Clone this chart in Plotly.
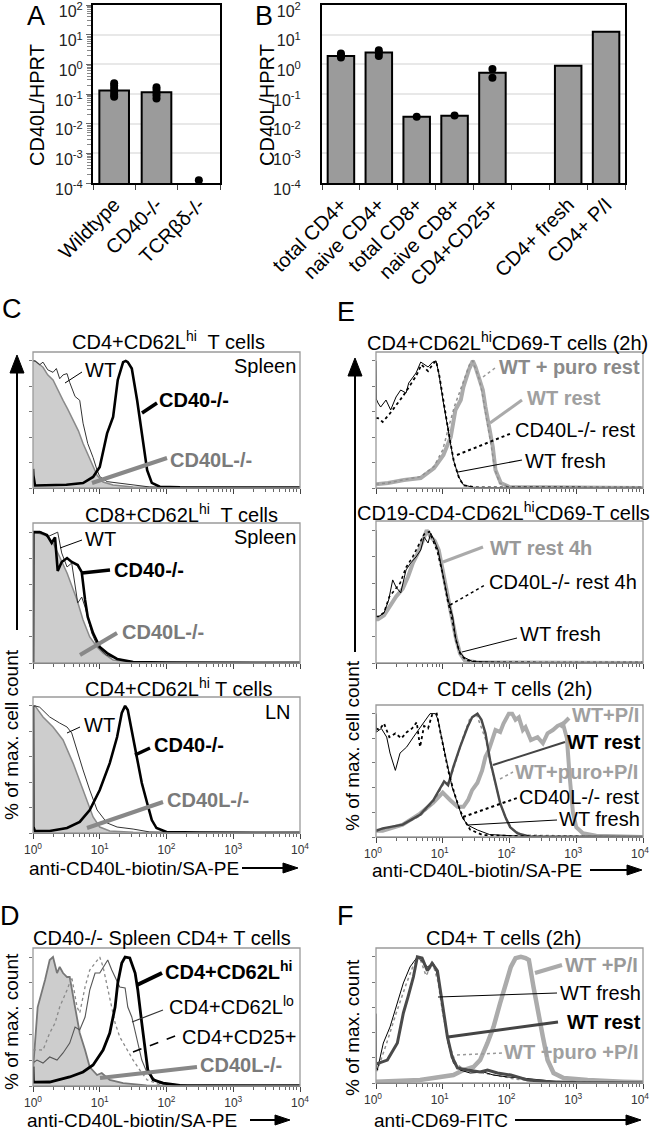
import numpy as np
import plotly.graph_objects as go

W, H = 650, 1132
FONT = "Liberation Sans, Arial, sans-serif"

# ------------------------------------------------------------------ data
# Panel A (CD40L/HPRT)
A_cats = ["Wildtype", "CD40-/-", "TCRβδ-/-"]
A_bars = [0.13, 0.115, None]
A_wt_dots = [0.23, 0.19, 0.15, 0.12, 0.095, 0.08]
A_cd40_dots = [0.17, 0.14, 0.11, 0.09, 0.07]
A_tcr_dots = [1.25e-4]

# Panel B
B_cats = ["total CD4+", "naive CD4+", "total CD8+", "naive CD8+", "CD4+CD25+", " ", "CD4+ fresh", "CD4+ P/I"]
B_bars = [1.9, 2.5, 0.017, 0.0186, 0.52, None, 0.9, 12.6]
B_tcd4_dots = [2.3, 1.7, 2.0]
B_ncd4_dots = [3.0, 1.9, 2.4]
B_tcd8_dots = [0.017]
B_ncd8_dots = [0.019]
B_cd25_dots = [0.7, 0.35]

# Histograms: x = log10 fluorescence, y = % of max
C1_ko_x = [0, 0.03, 0.15, 0.22, 0.3, 0.38, 0.45, 0.52, 0.6, 0.68, 0.75, 0.82, 0.88, 0.96, 1.05, 1.2, 1.5, 2.0, 4.0]
C1_ko_y = [100, 100, 95, 89, 85, 76, 69, 62, 53, 45, 35, 27, 20, 10, 4.7, 2.4, 0.8, 0.3, 0]
C1_wt_x = [0, 0.03, 0.1, 0.15, 0.22, 0.3, 0.35, 0.4, 0.45, 0.51, 0.55, 0.63, 0.7, 0.75, 0.82, 0.9, 0.96, 1.0, 1.11, 1.26, 1.5, 1.75, 2.2, 4.0]
C1_wt_y = [100, 100, 97, 99, 93, 91, 94, 86, 89, 90, 83, 72, 69, 51, 35, 24, 14, 9, 5, 4, 2.4, 0.8, 0.3, 0]
C1_cd40_x = [0, 0.005, 0.03, 0.1, 0.5, 0.75, 0.9, 1.0, 1.11, 1.2, 1.27, 1.35, 1.39, 1.42, 1.48, 1.56, 1.63, 1.71, 1.78, 1.9, 2.2, 4.0]
C1_cd40_y = [15, 10, 2, 2, 2.5, 3.9, 8.7, 16.5, 43, 56, 85, 99, 100, 99, 94, 69, 43, 14, 4, 1, 0.5, 0.3]

C2_ko_x = [0, 0.1, 0.21, 0.3, 0.4, 0.51, 0.66, 0.75, 0.85, 0.96, 1.05, 1.2, 1.5, 4.0]
C2_ko_y = [100, 99, 97, 91.7, 81, 68.8, 48.2, 32.9, 19.9, 12.2, 7.6, 2.3, 0.5, 0]
C2_cd40_x = [0, 0.005, 0.1, 0.21, 0.28, 0.33, 0.37, 0.43, 0.51, 0.58, 0.67, 0.73, 0.78, 0.82, 0.9, 1.0, 1.11, 1.26, 1.5, 2.0, 4.0]
C2_cd40_y = [0, 100, 100, 97.8, 91.7, 96, 70.3, 77.2, 80.2, 77.2, 74.9, 69.5, 48.2, 35.2, 22.9, 12.2, 7.6, 3.1, 0.8, 0.3, 0.2]
C2_wt_x = [0, 0.13, 0.21, 0.33, 0.37, 0.43, 0.51, 0.58, 0.63, 0.67, 0.73, 0.78, 0.88, 0.97, 1.1, 1.3, 1.6, 4.0]
C2_wt_y = [100, 100, 96.3, 99.4, 100, 84.1, 73.4, 76.4, 61.1, 45.9, 50.4, 42.8, 22.9, 12.2, 6, 2.3, 0.5, 0]

C3_ko_x = [0, 0.03, 0.15, 0.3, 0.45, 0.6, 0.75, 0.9, 1.0, 1.15, 1.5, 4.0]
C3_ko_y = [100, 100, 91.3, 83.4, 73.2, 55, 33.8, 12.6, 4.7, 1.6, 0.5, 0]
C3_wt_x = [0, 0.03, 0.1, 0.25, 0.4, 0.51, 0.58, 0.67, 0.75, 0.85, 0.96, 1.11, 1.26, 1.5, 1.75, 2.2, 4.0]
C3_wt_y = [100, 100, 99, 91.3, 86.5, 83.4, 78.7, 63, 49.6, 33.8, 18.1, 7.9, 4.7, 3.1, 0.8, 0.3, 0]
C3_cd40_x = [0, 0.005, 0.03, 0.25, 0.51, 0.7, 0.85, 1.0, 1.15, 1.26, 1.33, 1.38, 1.42, 1.5, 1.56, 1.63, 1.71, 1.78, 1.85, 2.0, 2.5, 4.0]
C3_cd40_y = [100, 5, 1.5, 1.6, 3.9, 8.7, 18.1, 33.8, 55, 75.5, 94.4, 100, 96.8, 75.5, 59.8, 39.3, 23.6, 10.2, 3.9, 0.8, 0.3, 0.2]

D_ko_x = [0, 0.07, 0.18, 0.25, 0.3, 0.36, 0.4, 0.45, 0.51, 0.55, 0.63, 0.7, 0.78, 0.85, 0.96, 1.03, 1.15, 1.35, 1.7, 4.0]
D_ko_y = [12.4, 61.2, 82.2, 97.7, 100, 87.6, 92.3, 87.6, 84.5, 84.5, 61.2, 41.1, 27.9, 14.7, 8.5, 10.1, 4.7, 2.3, 0.5, 0]
D_hi_x = [0, 0.005, 0.03, 0.25, 0.55, 0.75, 0.9, 1.05, 1.15, 1.23, 1.27, 1.33, 1.38, 1.45, 1.53, 1.57, 1.63, 1.68, 1.72, 1.8, 1.95, 2.2, 4.0]
D_hi_y = [15, 3, 3, 3.1, 7, 10.9, 16.3, 27.9, 41.1, 61.2, 79.8, 95.3, 100, 99.3, 87.6, 74.4, 48.8, 27.9, 12.4, 4.7, 2.3, 0.5, 0.2]
D_lo_x = [0, 0.06, 0.15, 0.25, 0.36, 0.45, 0.55, 0.63, 0.7, 0.78, 0.85, 0.93, 1.0, 1.05, 1.12, 1.18, 1.23, 1.3, 1.38, 1.42, 1.48, 1.56, 1.63, 1.71, 1.9, 2.3, 4.0]
D_lo_y = [18, 20.1, 17.8, 22.5, 20.1, 25.6, 33.3, 45.7, 43.4, 53.5, 74.4, 87.6, 87.6, 92.3, 97.7, 89.9, 84.5, 76.8, 76, 61.2, 53.5, 35.7, 20.1, 10.1, 2, 0.5, 0]
D_25_x = [0, 0.15, 0.25, 0.33, 0.4, 0.51, 0.58, 0.66, 0.7, 0.78, 0.85, 0.96, 1.0, 1.05, 1.12, 1.23, 1.3, 1.41, 1.5, 1.6, 1.71, 1.9, 2.3, 4.0]
D_25_y = [28, 27.9, 41.1, 48.8, 61.2, 74.4, 84.5, 61.2, 56.6, 76.8, 89.9, 97.7, 100, 92.3, 74.4, 48.8, 38, 27.9, 20.1, 12.4, 4.7, 1, 0.3, 0]

E1_fresh_x = [0, 0.005, 0.03, 0.07, 0.15, 0.22, 0.3, 0.37, 0.45, 0.49, 0.6, 0.67, 0.78, 0.85, 0.9, 0.94, 1.01, 1.09, 1.16, 1.24, 1.31, 1.46, 2.0, 4.0]
E1_fresh_y = [100, 70, 66.9, 63.7, 69.2, 61.4, 71.6, 77.1, 74.7, 82.6, 90.5, 99.1, 95.2, 99.1, 100, 90.5, 66.9, 43.3, 22, 8.7, 2.4, 0.5, 0.2, 0]
E1_ko_x = [0, 0.03, 0.1, 0.2, 0.3, 0.4, 0.5, 0.6, 0.68, 0.78, 0.86, 0.9, 0.95, 1.02, 1.1, 1.17, 1.25, 1.32, 1.5, 4.0]
E1_ko_y = [55, 55, 52, 58, 65, 72, 80, 88, 97, 92, 98, 100, 88, 65, 40, 20, 7, 2, 0.5, 0.3]
E1_rest_x = [0, 0.18, 0.42, 0.67, 0.87, 1.01, 1.12, 1.19, 1.27, 1.31, 1.39, 1.45, 1.49, 1.54, 1.6, 1.64, 1.69, 1.75, 1.79, 1.87, 2.0, 4.0]
E1_rest_y = [3, 3.9, 6.3, 7.9, 15.7, 26, 40.1, 61.4, 69.2, 79.5, 92.8, 100, 95.2, 87.3, 77.1, 63.7, 51.1, 32.3, 14.2, 3.9, 0.8, 0]
E1_puro_x = [0, 0.18, 0.42, 0.67, 0.87, 1.0, 1.1, 1.18, 1.25, 1.32, 1.4, 1.45, 1.5, 1.55, 1.6, 1.66, 1.72, 1.78, 1.85, 2.0, 4.0]
E1_puro_y = [3, 4, 6.5, 9, 17, 30, 50, 65, 75, 85, 97, 100, 93, 85, 72, 55, 35, 15, 4, 0.8, 0.3]

E2_fresh_x = [0, 0.005, 0.03, 0.12, 0.19, 0.25, 0.3, 0.37, 0.45, 0.52, 0.6, 0.67, 0.72, 0.78, 0.82, 0.87, 0.93, 1.0, 1.07, 1.15, 1.19, 1.24, 1.31, 1.45, 2.0, 4.0]
E2_fresh_y = [100, 36, 34.7, 37.7, 47.5, 62.6, 57.3, 52.8, 70.1, 75.4, 79.9, 85.1, 94.9, 90.4, 97.9, 92.7, 85.1, 67.8, 49.7, 34.7, 19.6, 9.8, 4.5, 1, 0.3, 0]
E2_rest_x = [0, 0.03, 0.12, 0.2, 0.3, 0.4, 0.48, 0.55, 0.62, 0.7, 0.76, 0.82, 0.88, 0.94, 1.0, 1.07, 1.14, 1.2, 1.26, 1.33, 1.5, 4.0]
E2_rest_y = [33, 33, 36, 42, 50, 56, 65, 75, 82, 92, 100, 95, 92, 85, 70, 52, 35, 18, 7, 2, 0.5, 0]
E2_ko_x = [0, 0.03, 0.12, 0.2, 0.28, 0.36, 0.45, 0.55, 0.65, 0.72, 0.8, 0.86, 0.92, 1.0, 1.07, 1.14, 1.2, 1.26, 1.35, 1.6, 4.0]
E2_ko_y = [35, 35, 38, 50, 55, 60, 72, 80, 90, 97, 99, 92, 84, 67, 48, 33, 17, 7, 2, 0.5, 0.3]

E3_fresh_x = [0, 0.005, 0.08, 0.16, 0.21, 0.29, 0.36, 0.46, 0.56, 0.66, 0.74, 0.81, 0.89, 0.93, 0.99, 1.07, 1.14, 1.22, 1.29, 1.37, 1.52, 1.7, 2.2, 4.0]
E3_fresh_y = [100, 85, 88, 81, 68, 54, 68, 73, 81, 89, 95, 100, 100, 95, 78.6, 56.7, 40.5, 27.5, 16.2, 9.7, 5.7, 2, 0.5, 0]
E3_ko_x = [0, 0.05, 0.12, 0.2, 0.29, 0.38, 0.46, 0.54, 0.61, 0.66, 0.72, 0.78, 0.84, 0.91, 0.96, 1.02, 1.09, 1.16, 1.23, 1.31, 1.41, 1.6, 2.5, 4.0]
E3_ko_y = [88, 87, 92, 81, 84, 80, 85, 88, 93, 73, 90, 88, 99, 100, 86, 70, 52, 38, 26, 15, 6, 1.5, 0.3, 0]
E3_rest_x = [0, 0.1, 0.4, 0.66, 0.86, 0.96, 1.02, 1.08, 1.16, 1.26, 1.37, 1.44, 1.52, 1.58, 1.64, 1.71, 1.79, 1.86, 1.94, 2.01, 2.12, 2.3, 4.0]
E3_rest_y = [5, 7, 10, 18, 30, 40, 45, 42, 57, 73, 89, 97, 100, 95, 84, 62, 44, 27.5, 16, 8, 3, 0.5, 0]
E3_puro_x = [0, 0.4, 0.66, 0.86, 1.0, 1.1, 1.2, 1.3, 1.4, 1.5, 1.57, 1.65, 1.72, 1.8, 1.88, 1.96, 2.05, 2.2, 4.0]
E3_puro_y = [5, 10, 17, 28, 42, 45, 62, 80, 95, 100, 90, 78, 58, 40, 24, 13, 6, 1.5, 0]
E3_pi_x = [0, 0.1, 0.4, 0.66, 0.86, 1.0, 1.11, 1.22, 1.31, 1.38, 1.44, 1.52, 1.59, 1.64, 1.69, 1.74, 1.79, 1.86, 1.91, 1.99, 2.04, 2.09, 2.14, 2.2, 2.24, 2.32, 2.42, 2.5, 2.57, 2.65, 2.72, 2.8, 2.86, 2.9, 2.95, 3.0, 3.1, 3.3, 4.0]
E3_pi_y = [5, 5, 10, 19, 28, 36, 30, 24.5, 24.5, 30, 38, 44, 54, 65, 70.5, 78.6, 86.7, 85, 92, 100, 100, 95, 97, 86.7, 89, 78.6, 81, 76, 84, 86.7, 90, 92, 80, 50, 20, 8, 3, 1, 0]

F_fresh_x = [0, 0.005, 0.02, 0.11, 0.21, 0.32, 0.41, 0.51, 0.62, 0.66, 0.77, 0.86, 0.93, 1.0, 1.08, 1.16, 1.26, 1.41, 1.61, 1.76, 1.97, 2.17, 2.42, 2.7, 3.0, 4.0]
F_fresh_y = [55, 12, 10.3, 31.7, 44.4, 63.4, 79.3, 92, 100, 98, 92, 95, 84, 57.9, 31.7, 15.9, 10.3, 7.9, 8.7, 6.3, 4.8, 4, 2.4, 1.2, 0.5, 0]
F_rest_x = [0, 0.17, 0.32, 0.41, 0.48, 0.56, 0.62, 0.69, 0.77, 0.84, 0.92, 0.99, 1.07, 1.14, 1.22, 1.37, 1.56, 1.67, 1.82, 2.02, 2.27, 2.6, 3.0, 4.0]
F_rest_y = [15, 18.2, 31.7, 55.5, 68.2, 84, 100, 99, 89, 95, 89, 63.4, 36.5, 20.6, 11.9, 10.3, 8.7, 10.3, 7.9, 6.3, 2.4, 1, 0.3, 0]
F_puro_x = [0, 0.02, 0.15, 0.3, 0.45, 0.55, 0.65, 0.75, 0.85, 0.93, 1.0, 1.1, 1.2, 1.35, 1.6, 1.8, 2.1, 2.5, 4.0]
F_puro_y = [10, 10, 30, 55, 78, 92, 100, 85, 95, 80, 55, 30, 15, 10, 8, 6, 3, 1, 0]
F_pi_x = [0, 0.66, 1.16, 1.31, 1.46, 1.56, 1.67, 1.76, 1.86, 1.94, 2.02, 2.09, 2.17, 2.24, 2.29, 2.36, 2.42, 2.5, 2.57, 2.66, 2.81, 3.17, 3.7, 4.0]
F_pi_y = [1, 2.4, 6.3, 10.3, 12.7, 18.2, 31.7, 44.4, 63.4, 79.3, 92, 99, 100, 99, 97.5, 76, 57.9, 36.5, 18.2, 7.9, 4, 2.4, 1, 0.5]

# ------------------------------------------------------------------ layout helpers
def fx(px):
    return px / W

def fy(py):
    return 1 - py / H

PANELS = [  # name, x0, x1, y0, y1 (pixels)
    ("A", 93, 220, 5, 183),
    ("B", 322, 625, 5, 183),
    ("C1", 33, 300, 352, 488),
    ("C2", 33, 300, 523, 663),
    ("C3", 33, 300, 697, 833),
    ("D", 33, 300, 948, 1086),
    ("E1", 376, 643, 352, 488),
    ("E2", 376, 643, 521, 663),
    ("E3", 376, 643, 705, 837),
    ("F", 376, 643, 948, 1083),
]
IDX = {p[0]: i + 1 for i, p in enumerate(PANELS)}

fig = go.Figure()
layout = dict(width=W, height=H, margin=dict(l=0, r=0, t=0, b=0),
              paper_bgcolor="white", plot_bgcolor="white", showlegend=False,
              font=dict(family=FONT, color="black"))

dec_vals = [1, 10, 100, 1000, 10000]
dec_text = ["10<sup>0</sup>", "10<sup>1</sup>", "10<sup>2</sup>", "10<sup>3</sup>", "10<sup>4</sup>"]
minor_vals = [m * 10 ** d for d in range(4) for m in range(2, 10)]
bar_y_vals = [1e-4, 1e-3, 1e-2, 1e-1, 1, 10, 100]
bar_y_text = ["10<sup>-4</sup>", "10<sup>-3</sup>", "10<sup>-2</sup>", "10<sup>-1</sup>",
              "10<sup>0</sup>", "10<sup>1</sup>", "10<sup>2</sup>"]
bar_minor = [m * 10.0 ** d for d in range(-4, 2) for m in range(2, 10)]

shapes = []
annotations = []

for name, x0, x1, y0, y1 in PANELS:
    i = IDX[name]
    xa = "xaxis" if i == 1 else f"xaxis{i}"
    ya = "yaxis" if i == 1 else f"yaxis{i}"
    xd = [fx(x0), fx(x1)]
    yd = [fy(y1), fy(y0)]
    if name in ("A", "B"):
        cats = A_cats if name == "A" else B_cats
        layout[xa] = dict(domain=xd, anchor=f"y{i}", type="category", categoryorder="array",
                          categoryarray=cats, range=[-0.5, len(cats) - 0.5],
                          tickangle=-45, tickson="boundaries", ticks="outside", ticklen=5,
                          tickcolor="#444", showline=True, mirror=True, linecolor="black",
                          linewidth=2, showgrid=False, tickfont=dict(size=20),
                          automargin=False, fixedrange=True)
        ydict = dict(domain=yd, anchor=f"x{i}", type="log", range=[-4, 2],
                     tickmode="array", tickvals=bar_y_vals, ticktext=bar_y_text,
                     ticks="outside", ticklen=5, tickcolor="#666",
                     showline=True, mirror=True, linecolor="black", linewidth=2,
                     showgrid=True, gridcolor="#e8e8e8", gridwidth=1.5,
                     ticklabeloverflow="allow", ticklabelshift=6,
                     tickfont=dict(size=16, color="#222"), automargin=False)
        if name == "A":
            ydict["minor"] = dict(tickmode="array", tickvals=bar_minor, ticks="outside",
                                  ticklen=4, tickcolor="#888", showgrid=False)
        else:
            ydict["ticks"] = ""
            ydict["ticklabelstandoff"] = 16
        layout[ya] = ydict
    else:
        show_lbl = name in ("C3", "D", "E3", "F")
        xdict = dict(domain=xd, anchor=f"y{i}", type="log", range=[0, 4],
                     tickmode="array", tickvals=dec_vals, ticktext=dec_text,
                     ticks="outside", ticklen=5, tickcolor="#444",
                     minor=dict(tickmode="array", tickvals=minor_vals, ticks="outside",
                                ticklen=3, tickcolor="#666", showgrid=False),
                     showline=True, linecolor="#444", linewidth=1.3, showgrid=False,
                     zeroline=False, showticklabels=show_lbl, ticklabeloverflow="allow",
                     tickfont=dict(size=12, color="#333"), automargin=False)
        if name in ("E3", "F"):
            xdict["ticklabelshift"] = -3
        layout[xa] = xdict
        layout[ya] = dict(domain=yd, anchor=f"x{i}", range=[0, 107],
                          tickmode="array", tickvals=[0, 20, 40, 60, 80, 100],
                          ticks="outside", ticklen=3, tickcolor="#777",
                          showticklabels=False, showline=False, showgrid=False,
                          zeroline=False, automargin=False)
        shapes.append(dict(type="rect", xref=f"x{i} domain", yref=f"y{i} domain",
                           x0=0, x1=1, y0=0, y1=1, line=dict(color="#9a9a9a", width=1.3),
                           layer="above"))

# ------------------------------------------------------------------ bar traces
def bar(name, cats, vals):
    i = IDX[name]
    fig.add_trace(go.Bar(x=cats, y=vals, xaxis=f"x{i}", yaxis=f"y{i}", width=0.7,
                         marker=dict(color="#9b9b9b", line=dict(color="black", width=2))))

def dots(name, cat, vals):
    i = IDX[name]
    fig.add_trace(go.Scatter(x=[cat] * len(vals), y=vals, xaxis=f"x{i}", yaxis=f"y{i}",
                             mode="markers", cliponaxis=False,
                             marker=dict(color="black", size=8)))

bar("A", A_cats, A_bars)
dots("A", A_cats[0], A_wt_dots)
dots("A", A_cats[1], A_cd40_dots)
dots("A", A_cats[2], A_tcr_dots)
bar("B", B_cats, B_bars)
dots("B", B_cats[0], B_tcd4_dots)
dots("B", B_cats[1], B_ncd4_dots)
dots("B", B_cats[2], B_tcd8_dots)
dots("B", B_cats[3], B_ncd8_dots)
dots("B", B_cats[4], B_cd25_dots)

# ------------------------------------------------------------------ histogram traces
FILL = "#cdcdcd"
def curve(name, lx, y, color, width, dash="solid", fill=False):
    i = IDX[name]
    kw = dict(x=10 ** np.array(lx, dtype=float), y=y, xaxis=f"x{i}", yaxis=f"y{i}",
              mode="lines", line=dict(color=color, width=width, dash=dash, shape="linear"))
    if fill:
        kw["fill"] = "tozeroy"
        kw["fillcolor"] = FILL
    fig.add_trace(go.Scatter(**kw))

LG = "#ababab"   # light thick gray
DG = "#4a4a4a"   # dark gray

for nm, kx, ky, wx, wy, cx, cy in [
        ("C1", C1_ko_x, C1_ko_y, C1_wt_x, C1_wt_y, C1_cd40_x, C1_cd40_y),
        ("C2", C2_ko_x, C2_ko_y, C2_wt_x, C2_wt_y, C2_cd40_x, C2_cd40_y),
        ("C3", C3_ko_x, C3_ko_y, C3_wt_x, C3_wt_y, C3_cd40_x, C3_cd40_y)]:
    curve(nm, kx, ky, "#8a8a8a", 1.5, fill=True)
    curve(nm, wx, wy, "#333333", 1.0)
    curve(nm, cx, cy, "black", 2.6)

curve("D", D_ko_x, D_ko_y, "#777777", 1.8, fill=True)
curve("D", D_25_x, D_25_y, "#8a8a8a", 1.3, dash="dot")
curve("D", D_lo_x, D_lo_y, "#555555", 1.1)
curve("D", D_hi_x, D_hi_y, "black", 2.8)

curve("E1", E1_rest_x, E1_rest_y, LG, 4)
curve("E1", E1_puro_x, E1_puro_y, "#8f8f8f", 1.5, dash="dot")
curve("E1", E1_ko_x, E1_ko_y, "black", 1.8, dash="dot")
curve("E1", E1_fresh_x, E1_fresh_y, "black", 1.0)

curve("E2", E2_rest_x, E2_rest_y, LG, 4)
curve("E2", E2_ko_x, E2_ko_y, "black", 1.6, dash="dot")
curve("E2", E2_fresh_x, E2_fresh_y, "black", 1.0)

curve("E3", E3_pi_x, E3_pi_y, LG, 4)
curve("E3", E3_puro_x, E3_puro_y, "#8f8f8f", 1.5, dash="dot")
curve("E3", E3_rest_x, E3_rest_y, DG, 2.4)
curve("E3", E3_ko_x, E3_ko_y, "black", 1.8, dash="dot")
curve("E3", E3_fresh_x, E3_fresh_y, "black", 1.0)

curve("F", F_pi_x, F_pi_y, LG, 4.5)
curve("F", F_puro_x, F_puro_y, "#8f8f8f", 1.5, dash="dot")
curve("F", F_fresh_x, F_fresh_y, "black", 1.0)
curve("F", F_rest_x, F_rest_y, DG, 3)

# ------------------------------------------------------------------ text
def text(t, x, y, size=20, color="black", anchor="left", angle=0):
    annotations.append(dict(text=t, x=fx(x), y=fy(y), xref="paper", yref="paper",
                            xanchor=anchor, yanchor="middle", showarrow=False,
                            textangle=angle, font=dict(size=size, color=color, family=FONT)))

def seg(x0, y0, x1, y1, color="black", width=1, dash="solid"):
    shapes.append(dict(type="line", xref="paper", yref="paper", x0=fx(x0), y0=fy(y0),
                       x1=fx(x1), y1=fy(y1), line=dict(color=color, width=width, dash=dash),
                       layer="above"))

def tri(pts):
    d = "M " + " L ".join(f"{fx(a):.5f},{fy(b):.5f}" for a, b in pts) + " Z"
    shapes.append(dict(type="path", xref="paper", yref="paper", path=d,
                       fillcolor="black", line=dict(color="black", width=1), layer="above"))

def harrow(x0, x1, y):
    seg(x0, y, x1 - 12, y, width=2)
    tri([(x1, y), (x1 - 15, y - 5), (x1 - 15, y + 5)])

def varrow(x, ybot, ytip):
    seg(x, ybot, x, ytip + 14, width=2)
    tri([(x, ytip), (x - 7, ytip + 18), (x + 7, ytip + 18)])

# panel letters
for L, x, y in [("A", 36, 16), ("B", 264, 16), ("C", 12, 309), ("E", 346, 312),
                ("D", 10, 916), ("F", 345, 916)]:
    text(L, x, y, size=27, anchor="center")

text("CD40L/HPRT", 37, 105, size=20, anchor="center", angle=-90)
text("CD40L/HPRT", 267, 105, size=20, anchor="center", angle=-90)

# titles
text("CD4+CD62L<sup>hi</sup>&nbsp; T cells", 168, 340, anchor="center")
text("CD8+CD62L<sup>hi</sup>&nbsp; T cells", 181, 513, anchor="center")
text("CD4+CD62L<sup>hi</sup> T cells", 178, 687, anchor="center")
text("CD40-/- Spleen CD4+ T cells", 162, 938, anchor="center")
text("CD4+CD62L<sup>hi</sup>CD69-T cells (2h)", 507, 342, anchor="center")
text("CD19-CD4-CD62L<sup>hi</sup>CD69-T cells", 504, 511, anchor="center")
text("CD4+ T cells (2h)", 514, 689, anchor="center")
text("CD4+ T cells (2h)", 503, 938, anchor="center")

GL = "#7a7a7a"
# C1
text("WT", 83, 370); text("Spleen", 298, 366, anchor="right")
text("<b>CD40-/-</b>", 157, 400); text("<b>CD40L-/-</b>", 168, 460, color=GL)
seg(65, 383, 82, 372, width=1); seg(142, 413, 157, 403, width=3.5)
seg(92, 483, 167, 458, color="#888", width=4)
# C2
text("WT", 83, 539); text("Spleen", 298, 537, anchor="right")
text("<b>CD40-/-</b>", 112, 570); text("<b>CD40L-/-</b>", 120, 632, color=GL)
seg(60, 548, 82, 540, width=1); seg(82, 573, 110, 570, width=3.5)
seg(80, 655, 117, 633, color="#888", width=4)
# C3
text("LN", 293, 712, anchor="right"); text("WT", 82, 725)
text("<b>CD40-/-</b>", 152, 745); text("<b>CD40L-/-</b>", 165, 800, color=GL)
seg(67, 733, 80, 727, width=1); seg(135, 755, 150, 748, width=3.5)
seg(87, 828, 163, 802, color="#888", width=4)
# D
text("<b>CD4+CD62L<sup>hi</sup></b>", 163, 970); text("CD4+CD62L<sup>lo</sup>", 167, 1005)
text("CD4+CD25+", 180, 1037); text("<b>CD40L-/-</b>", 198, 1065, color=GL)
seg(137, 985, 162, 973, width=4); seg(132, 1022, 163, 1010, color="#333", width=1.2)
seg(133, 1052, 178, 1035, width=1.6, dash="dash"); seg(100, 1078, 197, 1067, color="#888", width=4)
# E1
text("<b>WT + puro rest</b>", 497, 367, color="#8a8a8a"); text("<b>WT rest</b>", 525, 398, color="#a0a0a0")
text("CD40L-/- rest", 513, 430); text("WT fresh", 523, 461)
seg(483, 377, 495, 368, color="#999", width=1.5, dash="dot"); seg(490, 423, 522, 400, color="#aaa", width=3)
seg(457, 455, 512, 433, width=2, dash="dot"); seg(458, 472, 522, 460, width=1.2)
# E2
text("<b>WT rest 4h</b>", 488, 548, color="#999"); text("CD40L-/- rest 4h", 487, 582)
text("WT fresh", 518, 634)
seg(443, 562, 483, 547, color="#aaa", width=3); seg(450, 605, 485, 585, width=1.5, dash="dot")
seg(462, 652, 517, 638, width=1)
# E3
text("<b>WT+P/I</b>", 570, 715, color="#a0a0a0"); text("<b>WT rest</b>", 565, 742)
text("<b>WT+puro+P/I</b>", 513, 772, color="#a0a0a0"); text("CD40L-/- rest", 517, 797)
text("WT fresh", 557, 819)
seg(560, 727, 569, 718, color="#aaa", width=4); seg(493, 765, 565, 742, color="#444", width=2)
seg(500, 779, 513, 772, color="#999", width=1.5, dash="dot"); seg(463, 817, 517, 798, width=2, dash="dot")
seg(467, 825, 557, 820, width=1)
# F
text("<b>WT +P/I</b>", 563, 965, color="#999"); text("WT fresh", 558, 993)
text("<b>WT rest</b>", 565, 1022); text("<b>WT +puro +P/I</b>", 502, 1052, color="#a0a0a0")
seg(535, 973, 562, 965, color="#aaa", width=4); seg(438, 997, 557, 993, width=1)
seg(448, 1037, 558, 1022, color="#444", width=3); seg(457, 1055, 502, 1053, color="#999", width=1.5, dash="dot")

# axis titles + arrows
text("anti-CD40L-biotin/SA-PE", 27, 868, size=19)
harrow(242, 298, 868)
text("anti-CD40L-biotin/SA-PE", 370, 870, size=19)
harrow(590, 642, 870)
text("anti-CD40L-biotin/SA-PE", 25, 1120, size=19)
harrow(250, 290, 1120)
text("anti-CD69-FITC", 372, 1120, size=19)
harrow(515, 641, 1120)

text("% of max. cell count", 11, 735, size=19, anchor="center", angle=-90)
varrow(17, 630, 355)
text("% of max. cell count", 352, 746, size=19, anchor="center", angle=-90)
varrow(355, 652, 358)
text("% of max. count", 11, 1022, size=19, anchor="center", angle=-90)
text("% of max. count", 352, 1028, size=19, anchor="center", angle=-90)

layout["shapes"] = shapes
layout["annotations"] = annotations
fig.update_layout(**layout)

fig.write_html("out.html", config={"displayModeBar": False},
               post_script="document.body.style.margin='0';document.body.style.overflow='hidden';")
